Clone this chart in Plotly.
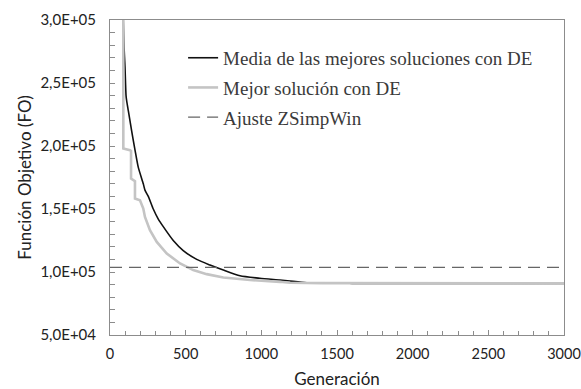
import plotly.graph_objects as go

# Media de las mejores soluciones con DE (black)
gen_media = [86, 93, 99, 106, 110, 121, 143, 165, 187, 220, 231, 253, 286, 319, 352, 418, 484, 573, 661, 749,
             859, 990, 1123, 1189, 1300, 1600, 3000]
fo_media = [3.05e5, 2.78e5, 2.63e5, 2.40e5, 2.36e5, 2.28e5, 2.12e5, 1.97e5, 1.83e5, 1.70e5, 1.65e5, 1.60e5,
            1.50e5, 1.42e5, 1.36e5, 1.25e5, 1.17e5, 1.10e5, 1.055e5, 1.015e5, 9.7e4, 9.5e4, 9.36e4, 9.28e4,
            9.15e4, 9.1e4, 9.1e4]

# Mejor solución con DE (gray, step-like)
gen_mejor = [88, 88, 132, 139, 139, 154, 165, 165, 198, 220, 231, 264, 309, 375, 463, 550, 639, 749, 859, 925,
             1123, 1189, 1400, 3000]
fo_mejor = [3.3e5, 1.98e5, 1.966e5, 1.96e5, 1.742e5, 1.728e5, 1.72e5, 1.583e5, 1.57e5, 1.504e5, 1.437e5,
            1.332e5, 1.239e5, 1.147e5, 1.068e5, 1.015e5, 9.83e4, 9.57e4, 9.41e4, 9.36e4, 9.22e4, 9.15e4,
            9.12e4, 9.1e4]

# Ajuste ZSimpWin (dashed)
gen_ajuste = [0, 3000]
fo_ajuste = [1.036e5, 1.036e5]

x_ticks = [0, 500, 1000, 1500, 2000, 2500, 3000]
y_ticks = [5e4, 1e5, 1.5e5, 2e5, 2.5e5, 3e5]
y_labels = ["5,0E+04", "1,0E+05", "1,5E+05", "2,0E+05", "2,5E+05", "3,0E+05"]

fig = go.Figure()
fig.add_trace(go.Scatter(x=gen_media, y=fo_media, mode="lines", name="Media de las mejores soluciones con DE",
                         line=dict(color="#111111", width=1.6, shape="spline", smoothing=0.6), legendgroup="a"))
fig.add_trace(go.Scatter(x=gen_mejor, y=fo_mejor, mode="lines", name="Mejor solución con DE",
                         line=dict(color="#c4c4c4", width=2.6), legendgroup="b"))
fig.add_trace(go.Scatter(x=gen_ajuste, y=fo_ajuste, mode="lines", name="Ajuste ZSimpWin",
                         line=dict(color="#666666", width=1.2, dash="12px,7px"), legendgroup="c"))

font_sans = "Lato, Liberation Sans, sans-serif"
axis_common = dict(showgrid=False, zeroline=False, showline=True, mirror=True, linecolor="#8c8c8c",
                   linewidth=1, ticks="inside", ticklen=5, tickcolor="#8c8c8c", automargin=False,
                   ticklabeloverflow="allow")

fig.update_xaxes(range=[0, 3000], tickvals=x_ticks, ticktext=[str(v) for v in x_ticks],
                 minor=dict(dtick=100, tick0=0, ticks="inside", ticklen=4, tickcolor="#8c8c8c"),
                 ticklabelstandoff=6,
                 tickfont=dict(family=font_sans, size=14.5, color="#222222"),
                 title=dict(text="Generación", font=dict(family=font_sans, size=17, color="#222222"),
                            standoff=15),
                 **axis_common)
fig.update_yaxes(range=[5e4, 3e5], tickvals=y_ticks, ticktext=y_labels,
                 minor=dict(dtick=1e4, tick0=0, ticks="inside", ticklen=5, tickcolor="#8c8c8c"),
                 ticklabelstandoff=10,
                 tickfont=dict(family=font_sans, size=15, color="#222222"),
                 title=dict(text="Función Objetivo (FO)", font=dict(family=font_sans, size=17, color="#222222"),
                            standoff=4),
                 **axis_common)

fig.update_layout(
    width=581, height=389,
    margin=dict(l=110, r=17, t=20, b=54),
    paper_bgcolor="white", plot_bgcolor="white",
    showlegend=True,
    legend=dict(x=0.161, y=0.94, xanchor="left", yanchor="top", bgcolor="rgba(0,0,0,0)",
                font=dict(family="Liberation Serif, serif", size=19, color="#3a3a3a"),
                traceorder="grouped", tracegroupgap=2, itemwidth=30),
)

# remove the default page margin and scrollbars so the figure fills the window exactly
fig.write_html("out.html",
               config={"displayModeBar": False},
               post_script="document.body.style.margin='0';"
                           "document.documentElement.style.overflow='hidden';"
                           "document.body.style.overflow='hidden';")
